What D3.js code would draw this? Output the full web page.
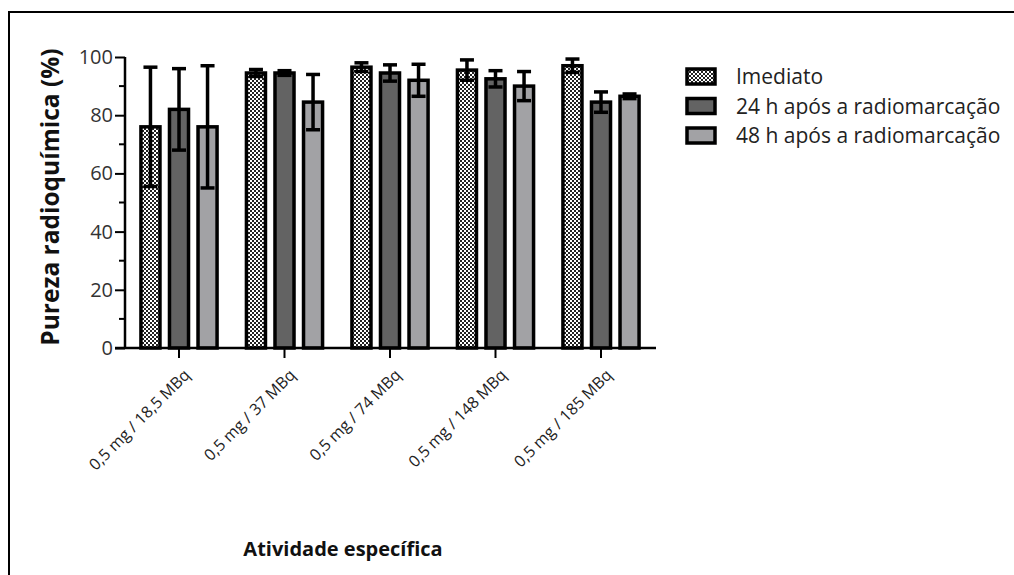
<!DOCTYPE html>
<html>
<head>
<meta charset="utf-8">
<script src="https://cdn.jsdelivr.net/npm/d3@7"></script>
<style>
  body { margin: 0; background: #fff; }
  text { font-family: "Open Sans", "Noto Sans", sans-serif; }
</style>
</head>
<body>
<svg></svg>
<script>
const width = 1014;
const height = 575;
const svg = d3.select("svg").attr("width", width).attr("height", height);

// data
const categories = ["0,5 mg / 18,5 MBq", "0,5 mg / 37 MBq", "0,5 mg / 74 MBq", "0,5 mg / 148 MBq", "0,5 mg / 185 MBq"];
const seriesNames = ["Imediato", "24 h após a radiomarcação", "48 h após a radiomarcação"];
const imediato = [76, 94.5, 96.5, 95.5, 97];
const imediatoErr = [20.5, 1.2, 1.5, 3.5, 2.3];
const h24 = [82, 94.5, 94.5, 92.5, 84.5];
const h24Err = [14, 0.8, 2.8, 2.8, 3.5];
const h48 = [76, 84.5, 92, 90, 86.5];
const h48Err = [21, 9.5, 5.5, 5, 0.8];
const yTicks = [0, 20, 40, 60, 80, 100];

const values = [imediato, h24, h48];
const errors = [imediatoErr, h24Err, h48Err];
const fills = ["url(#checker)", "#636363", "#a2a2a5"];

// checkered pattern
const defs = svg.append("defs");
const pat = defs.append("pattern").attr("id", "checker")
  .attr("width", 4).attr("height", 4).attr("patternUnits", "userSpaceOnUse");
pat.append("rect").attr("width", 4).attr("height", 4).attr("fill", "#fff");
pat.append("rect").attr("width", 2).attr("height", 2).attr("fill", "#222");
pat.append("rect").attr("x", 2).attr("y", 2).attr("width", 2).attr("height", 2).attr("fill", "#222");

// outer frame
svg.append("rect").attr("x", 9).attr("y", 12).attr("width", 1010).attr("height", 570)
  .attr("fill", "none").attr("stroke", "#000").attr("stroke-width", 2);

const x0 = 125, x1 = 656;
const y = d3.scaleLinear().domain([0, 100]).range([348, 57]);
const x = d3.scaleBand().domain(categories).range([126.25, 653.75]).paddingInner(0.25).paddingOuter(0.125);
const xs = d3.scaleBand().domain(seriesNames).range([0, x.bandwidth()]).paddingInner(0.228);

const g = svg.append("g");

// bars
seriesNames.forEach((s, si) => {
  g.selectAll(".bar" + si)
    .data(categories)
    .enter().append("rect")
    .attr("x", c => x(c) + xs(s) + 1.5)
    .attr("y", (c, i) => y(values[si][i]))
    .attr("width", xs.bandwidth() - 3)
    .attr("height", (c, i) => y(0) - y(values[si][i]))
    .attr("fill", fills[si])
    .attr("stroke", "#000")
    .attr("stroke-width", 3.5);

  const eb = g.selectAll(".err" + si)
    .data(categories)
    .enter().append("g")
    .attr("transform", c => `translate(${x(c) + xs(s) + xs.bandwidth() / 2},0)`);
  eb.append("line")
    .attr("y1", (c, i) => y(values[si][i] + errors[si][i]))
    .attr("y2", (c, i) => y(values[si][i] - errors[si][i]))
    .attr("stroke", "#000").attr("stroke-width", 3.5);
  [1, -1].forEach(sign => {
    eb.append("line")
      .attr("x1", -7).attr("x2", 7)
      .attr("y1", (c, i) => y(values[si][i] + sign * errors[si][i]))
      .attr("y2", (c, i) => y(values[si][i] + sign * errors[si][i]))
      .attr("stroke", "#000").attr("stroke-width", 3.5);
  });
});

// y axis
const yAxis = g.append("g").attr("transform", `translate(${x0},0)`)
  .call(d3.axisLeft(y).tickValues(yTicks).tickSize(10).tickPadding(2));
yAxis.append("g").selectAll("line")
  .data(d3.range(10, 100, 20))
  .enter().append("line")
  .attr("x1", -6).attr("x2", 0)
  .attr("y1", d => y(d)).attr("y2", d => y(d))
  .attr("stroke", "#000").attr("stroke-width", 2);
yAxis.select(".domain").attr("stroke-width", 2.5).attr("d", `M0,${y(100)}V${y(0)}`);
yAxis.selectAll(".tick line").attr("stroke-width", 2);
yAxis.selectAll(".tick text").attr("font-size", 20).attr("fill", "#333")
  .style("font-family", "'Open Sans', sans-serif");

// x axis
const xAxis = g.append("g").attr("transform", `translate(0,${y(0)})`)
  .call(d3.axisBottom(x).tickSize(10).tickSizeOuter(0));
xAxis.select(".domain").attr("stroke-width", 2.5).attr("d", `M${x0 - 10},0H${x1}`);
xAxis.selectAll(".tick line").attr("stroke-width", 2);
xAxis.selectAll(".tick text")
  .attr("font-size", 16).attr("fill", "#222")
  .style("font-family", "'Open Sans', sans-serif")
  .attr("text-anchor", "end")
  .attr("dy", 0).attr("y", 0)
  .attr("transform", "translate(12,28) rotate(-45)");

// axis titles
svg.append("text")
  .attr("transform", `translate(59,197) rotate(-90)`)
  .attr("text-anchor", "middle")
  .attr("font-size", 24.5).attr("font-weight", "bold").attr("fill", "#111")
  .text("Pureza radioquímica (%)");
svg.append("text")
  .attr("x", 343).attr("y", 556)
  .attr("text-anchor", "middle")
  .attr("font-size", 20).attr("font-weight", "bold").attr("fill", "#111")
  .text("Atividade específica");

// legend
const legend = svg.append("g").attr("transform", "translate(687,69)");
const li = legend.selectAll("g").data(seriesNames).enter().append("g")
  .attr("transform", (d, i) => `translate(0,${i * 29.5})`);
li.append("rect").attr("width", 28).attr("height", 15)
  .attr("fill", (d, i) => fills[i]).attr("stroke", "#000").attr("stroke-width", 3.5);
li.append("text").attr("x", 49).attr("y", 15)
  .attr("font-size", 21).attr("fill", "#222")
  .text(d => d);
</script>
</body>
</html>
